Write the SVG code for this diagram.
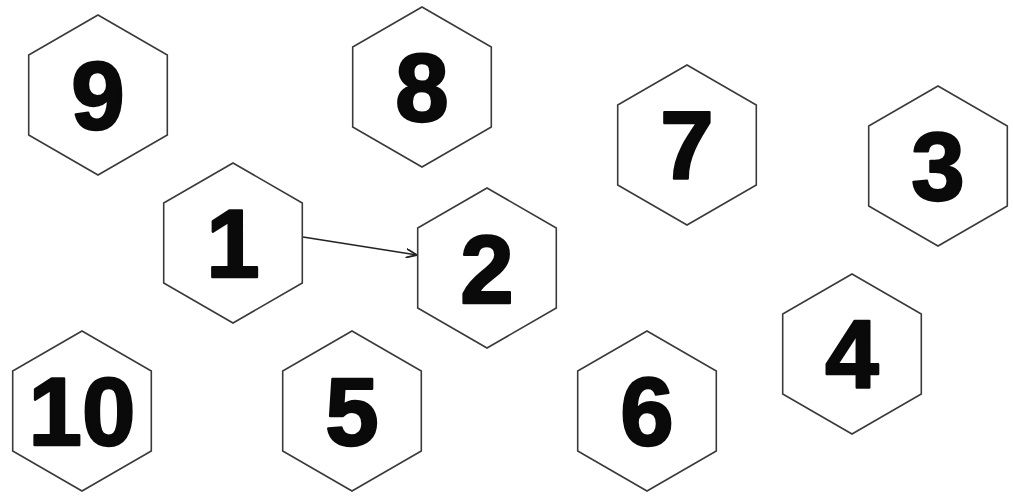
<svg xmlns="http://www.w3.org/2000/svg" xmlns:xlink="http://www.w3.org/1999/xlink" width="1013" height="496" viewBox="0 0 1013 496">
  <style>
    .hex { fill: #ffffff; stroke: #3a3a3a; stroke-width: 1.6; stroke-linejoin: miter; }
    .num { font-family: "Liberation Sans", Arial, sans-serif; font-weight: bold; font-size: 96px; fill: #0a0a0a; stroke: #0a0a0a; stroke-width: 2.4; stroke-linejoin: round; text-anchor: middle; }
    .conn { fill: none; stroke: #222222; stroke-width: 1.4; }
  </style>
  <defs>
    <polygon id="hexshape" points="0,-80 69.3,-40 69.3,40 0,80 -69.3,40 -69.3,-40"/>
    <marker id="arrow" viewBox="0 0 12 10" refX="11" refY="5" markerWidth="12" markerHeight="10" markerUnits="userSpaceOnUse" orient="auto">
      <path d="M0,0.5 L11,5 L0,9.5" fill="none" stroke="#222222" stroke-width="1.8"/>
    </marker>
  </defs>
  <rect x="0" y="0" width="1013" height="496" fill="#ffffff"/>

  <g id="connectors">
    <line class="conn" x1="303" y1="237" x2="417" y2="255" marker-end="url(#arrow)"/>
  </g>

  <g id="node-9" transform="translate(98,95)">
    <use href="#hexshape" class="hex"/>
    <text class="num" x="0" y="34">9</text>
  </g>
  <g id="node-8" transform="translate(422,87)">
    <use href="#hexshape" class="hex"/>
    <text class="num" x="0" y="34">8</text>
  </g>
  <g id="node-7" transform="translate(687,145)">
    <use href="#hexshape" class="hex"/>
    <text class="num" x="0" y="34">7</text>
  </g>
  <g id="node-3" transform="translate(938,166)">
    <use href="#hexshape" class="hex"/>
    <text class="num" x="0" y="34">3</text>
  </g>
  <g id="node-1" transform="translate(233,243)">
    <use href="#hexshape" class="hex"/>
    <text class="num" x="0" y="34">1</text>
  </g>
  <g id="node-2" transform="translate(487,268)">
    <use href="#hexshape" class="hex"/>
    <text class="num" x="0" y="35">2</text>
  </g>
  <g id="node-4" transform="translate(852,354)">
    <use href="#hexshape" class="hex"/>
    <text class="num" x="0" y="34">4</text>
  </g>
  <g id="node-10" transform="translate(82,411)">
    <use href="#hexshape" class="hex"/>
    <text class="num" x="0" y="34">10</text>
  </g>
  <g id="node-5" transform="translate(352,411)">
    <use href="#hexshape" class="hex"/>
    <text class="num" x="0" y="34">5</text>
  </g>
  <g id="node-6" transform="translate(647,411)">
    <use href="#hexshape" class="hex"/>
    <text class="num" x="0" y="34">6</text>
  </g>
</svg>
